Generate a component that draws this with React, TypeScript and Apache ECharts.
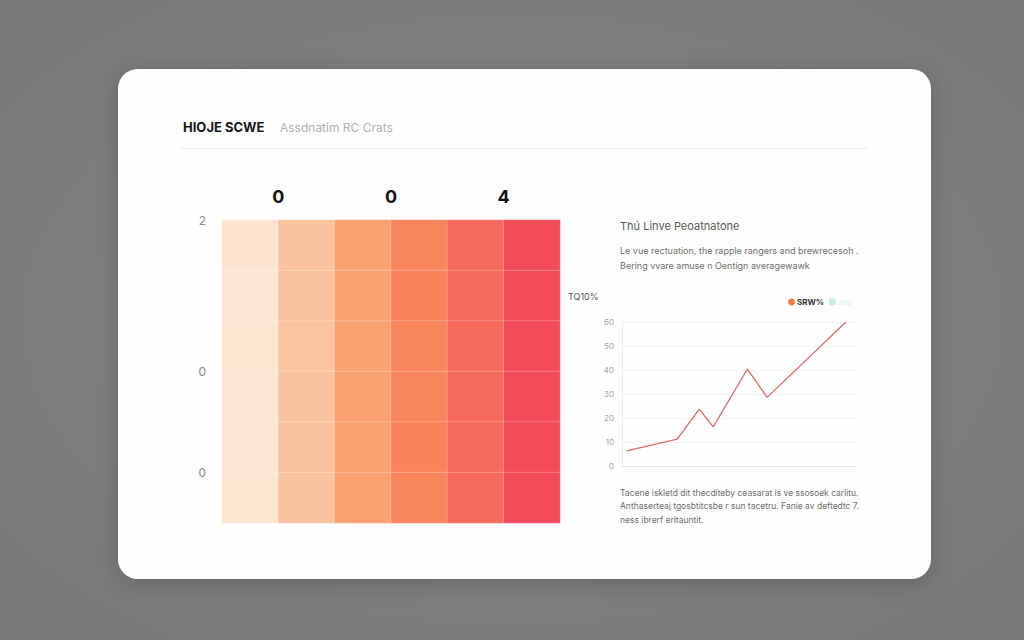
import React, { useEffect, useRef } from "react";
import * as echarts from "echarts";

// Heatmap: 6 columns x 6 rows (rows listed top to bottom)
const heatCols = ["c1", "c2", "c3", "c4", "c5", "c6"];
const heatRows = ["r1", "r2", "r3", "r4", "r5", "r6"];
const heatValues: number[][] = [
  [0.05, 1.0, 2.0, 3.0, 4.0, 5.0],
  [0.02, 1.02, 2.03, 3.02, 4.03, 5.0],
  [0.03, 0.98, 2.0, 3.0, 4.02, 5.0],
  [0.02, 1.0, 2.02, 3.0, 4.0, 5.0],
  [0.0, 1.02, 2.0, 3.02, 4.02, 5.0],
  [0.03, 1.0, 2.02, 3.0, 4.0, 5.0],
];
const heatTopLabels = ["", "0", "", "0", "", "4", ""];
const heatLeftLabels = ["", "0", "", "0", "", "", "2"];

// Line chart
const lineName = "SRW%";
const avgName = "avg";
const lineX = [2, 23.6, 33, 39, 53.6, 62, 95.7];
const lineY = [6.3, 11.2, 23.7, 16.3, 40.4, 28.6, 60];
const lineYLabels = ["0", "10", "20", "30", "40", "50", "60"];

const FONT = "Inter, Roboto, 'Noto Sans', sans-serif";

export default function App() {
  const ref = useRef<HTMLDivElement>(null);
  useEffect(() => {
    document.body.style.margin = "0";
    const chart = echarts.init(ref.current!, null, { renderer: "svg" });
    const heatData: number[][] = [];
    heatValues.forEach((row, r) => {
      row.forEach((v, c) => {
        heatData.push([c, heatRows.length - 1 - r, v]);
      });
    });
    const option: any = {
      animation: false,
      backgroundColor: {
        type: "radial",
        x: 0.5,
        y: 0.5,
        r: 0.75,
        colorStops: [
          { offset: 0, color: "#868686" },
          { offset: 1, color: "#777777" },
        ],
      },
      textStyle: { fontFamily: FONT },
      graphic: [
        {
          type: "rect",
          shape: { x: 118, y: 69, width: 813, height: 510, r: 20 },
          style: {
            fill: "#fefefe",
            shadowBlur: 24,
            shadowColor: "rgba(0,0,0,0.18)",
            shadowOffsetY: 4,
          },
          z: -10,
        },
        {
          type: "text",
          x: 183,
          y: 127,
          style: {
            text: "HIOJE SCWE",
            font: `bold 13px ${FONT}`,
            fill: "#161616",
            verticalAlign: "middle",
          },
        },
        {
          type: "text",
          x: 280,
          y: 127,
          style: {
            text: "Assdnatim RC Crats",
            font: `12px ${FONT}`,
            fill: "#b0b0b0",
            verticalAlign: "middle",
          },
        },
        {
          type: "line",
          shape: { x1: 180, y1: 148.5, x2: 868, y2: 148.5 },
          style: { stroke: "#ebebeb", lineWidth: 1 },
        },
        {
          type: "text",
          x: 620,
          y: 226,
          style: {
            text: "Thú Linve Peoatnatone",
            font: `11px ${FONT}`,
            fill: "#5a5a5a",
            verticalAlign: "middle",
          },
        },
        {
          type: "text",
          x: 620,
          y: 242.5,
          style: {
            text: "Le vue rectuation, the rapple rangers and brewrecesoh .\nBering vvare amuse n Oentign averagewawk",
            font: `9px ${FONT}`,
            fill: "#6e6e6e",
            lineHeight: 15,
            verticalAlign: "top",
          },
        },
        {
          type: "text",
          x: 568,
          y: 296,
          style: {
            text: "TQ10%",
            font: `9px ${FONT}`,
            fill: "#555",
            verticalAlign: "middle",
          },
        },
        {
          type: "text",
          x: 620,
          y: 486,
          style: {
            text: "Tacene iskletd dit thecditeby ceasarat is ve ssosoek carlitu.\nAnthaserteaj tgosbtitcsbe r sun tacetru. Fanie av deftedtc 7.\nness ibrerf eritauntit.",
            font: `8.5px ${FONT}`,
            fill: "#6e6e6e",
            lineHeight: 13.5,
            verticalAlign: "top",
          },
        },
      ],
      legend: {
        left: 783,
        top: 293,
        itemWidth: 7,
        itemHeight: 7,
        itemGap: 5,
        textStyle: { fontSize: 8, fontWeight: "bold", color: "#333", padding: [0, 0, 0, -3] },
        data: [
          { name: lineName, icon: "circle", itemStyle: { color: "#f0803c" } },
          {
            name: avgName,
            icon: "roundRect",
            itemStyle: { color: "#cdebe5" },
            textStyle: { color: "#dcefeb", fontWeight: "normal" },
          },
        ],
      },
      visualMap: {
        show: false,
        seriesIndex: 0,
        min: 0,
        max: 5,
        inRange: {
          color: ["#fce6d3", "#f9c39e", "#f9a271", "#f9855c", "#f66a5d", "#f44b59"],
        },
      },
      grid: [
        { left: 222, top: 220, width: 338, height: 303 },
        { left: 622, top: 322, width: 234, height: 144 },
      ],
      xAxis: [
        {
          type: "category",
          gridIndex: 0,
          data: heatCols,
          show: false,
        },
        {
          type: "value",
          gridIndex: 0,
          position: "top",
          min: 0,
          max: 6,
          interval: 1,
          axisLine: { show: false },
          axisTick: { show: false },
          splitLine: { show: false },
          axisLabel: {
            margin: 15,
            fontSize: 18,
            fontWeight: "bold",
            color: "#111",
            formatter: (v: number) => heatTopLabels[Math.round(v)] ?? "",
          },
        },
        {
          type: "value",
          gridIndex: 1,
          min: 0,
          max: 100,
          axisLine: { show: true, lineStyle: { color: "#e4e4e4" } },
          axisTick: { show: false },
          axisLabel: { show: false },
          splitLine: { show: false },
        },
      ],
      yAxis: [
        {
          type: "category",
          gridIndex: 0,
          data: heatRows,
          show: false,
          position: "right",
        },
        {
          type: "value",
          gridIndex: 0,
          position: "left",
          min: 0,
          max: 6,
          interval: 1,
          axisLine: { show: false },
          axisTick: { show: false },
          splitLine: { show: false },
          axisLabel: {
            margin: 16,
            fontSize: 12,
            color: "#8a8a8a",
            formatter: (v: number) => heatLeftLabels[Math.round(v)] ?? "",
          },
        },
        {
          type: "value",
          gridIndex: 1,
          min: 0,
          max: 60,
          interval: 10,
          axisLine: { show: true, lineStyle: { color: "#ececec" } },
          axisTick: { show: false },
          splitLine: { lineStyle: { color: "#f2f2f2" } },
          axisLabel: {
            margin: 8,
            fontSize: 8,
            color: "#a5a5a5",
            formatter: (v: number) => lineYLabels[Math.round(v / 10)] ?? "",
          },
        },
      ],
      series: [
        {
          type: "heatmap",
          xAxisIndex: 0,
          yAxisIndex: 0,
          data: heatData,
          itemStyle: { borderColor: "rgba(255,255,255,0.22)", borderWidth: 1 },
          emphasis: { disabled: true },
        },
        {
          type: "line",
          name: lineName,
          xAxisIndex: 2,
          yAxisIndex: 2,
          data: lineX.map((x, i) => [x, lineY[i]]),
          showSymbol: false,
          symbol: "none",
          lineStyle: { color: "#de6a6a", width: 1.3 },
          itemStyle: { color: "#f0803c" },
        },
        {
          type: "line",
          name: avgName,
          xAxisIndex: 2,
          yAxisIndex: 2,
          data: [],
          itemStyle: { color: "#cdebe5" },
        },
      ],
    };
    chart.setOption(option);
    return () => chart.dispose();
  }, []);
  return <div ref={ref} style={{ width: 1024, height: 640 }} />;
}
